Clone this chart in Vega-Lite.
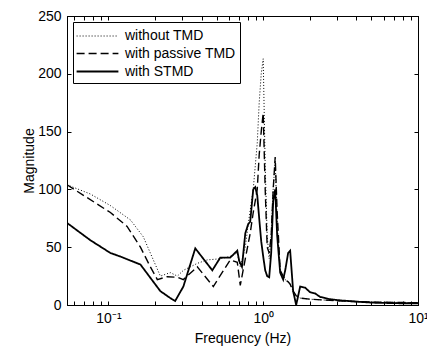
{
  "$schema": "https://vega.github.io/schema/vega-lite/v6.json",
  "width": 351,
  "height": 289,
  "autosize": "none",
  "padding": {"left": 67, "top": 16, "right": 9, "bottom": 44},
  "background": "white",
  "config": {
    "view": {"stroke": "black", "strokeWidth": 1},
    "axis": {
      "labelFont": "Liberation Sans", "titleFont": "Liberation Sans",
      "labelFontSize": 14, "titleFontSize": 14, "titleFontWeight": "normal",
      "labelColor": "black", "titleColor": "black", "domainColor": "black", "tickColor": "black",
      "grid": false, "tickSize": -4, "labelPadding": 10, "labelFlush": false, "labelOverlap": false
    },
    "legend": {
      "labelFont": "Liberation Sans", "labelFontSize": 14, "labelColor": "black",
      "strokeColor": "black", "fillColor": "white", "padding": 4, "cornerRadius": 0,
      "symbolType": "M-2.2,0H2.2", "symbolSize": 361, "symbolStrokeColor": "black",
      "symbolOffset": 10, "rowPadding": 0, "labelOffset": 17
    }
  },
  "data": {"values": [
    {"f": 0.054, "m": 104, "s": "without TMD"},
    {"f": 0.0765, "m": 96, "s": "without TMD"},
    {"f": 0.103, "m": 86, "s": "without TMD"},
    {"f": 0.139, "m": 73.5, "s": "without TMD"},
    {"f": 0.168, "m": 59, "s": "without TMD"},
    {"f": 0.195, "m": 39, "s": "without TMD"},
    {"f": 0.2165, "m": 25, "s": "without TMD"},
    {"f": 0.251, "m": 28, "s": "without TMD"},
    {"f": 0.279, "m": 25, "s": "without TMD"},
    {"f": 0.305, "m": 30, "s": "without TMD"},
    {"f": 0.375, "m": 36, "s": "without TMD"},
    {"f": 0.435, "m": 39, "s": "without TMD"},
    {"f": 0.528, "m": 40, "s": "without TMD"},
    {"f": 0.612, "m": 42, "s": "without TMD"},
    {"f": 0.68, "m": 45, "s": "without TMD"},
    {"f": 0.711, "m": 33, "s": "without TMD"},
    {"f": 0.766, "m": 50, "s": "without TMD"},
    {"f": 0.8, "m": 70, "s": "without TMD"},
    {"f": 0.862, "m": 100, "s": "without TMD"},
    {"f": 0.915, "m": 140, "s": "without TMD"},
    {"f": 0.942, "m": 175, "s": "without TMD"},
    {"f": 0.971, "m": 200, "s": "without TMD"},
    {"f": 1.0, "m": 213, "s": "without TMD"},
    {"f": 1.03, "m": 120, "s": "without TMD"},
    {"f": 1.061, "m": 60, "s": "without TMD"},
    {"f": 1.093, "m": 40, "s": "without TMD"},
    {"f": 1.126, "m": 60, "s": "without TMD"},
    {"f": 1.16, "m": 100, "s": "without TMD"},
    {"f": 1.195, "m": 125, "s": "without TMD"},
    {"f": 1.231, "m": 70, "s": "without TMD"},
    {"f": 1.287, "m": 30, "s": "without TMD"},
    {"f": 1.346, "m": 25, "s": "without TMD"},
    {"f": 1.387, "m": 22, "s": "without TMD"},
    {"f": 1.449, "m": 20, "s": "without TMD"},
    {"f": 1.493, "m": 18, "s": "without TMD"},
    {"f": 1.561, "m": 12, "s": "without TMD"},
    {"f": 1.633, "m": 8, "s": "without TMD"},
    {"f": 1.733, "m": 6, "s": "without TMD"},
    {"f": 2.01, "m": 5, "s": "without TMD"},
    {"f": 2.7, "m": 4, "s": "without TMD"},
    {"f": 3.92, "m": 3, "s": "without TMD"},
    {"f": 5.13, "m": 2.5, "s": "without TMD"},
    {"f": 10, "m": 2, "s": "without TMD"},

    {"f": 0.054, "m": 104, "s": "with passive TMD"},
    {"f": 0.103, "m": 80, "s": "with passive TMD"},
    {"f": 0.132, "m": 68, "s": "with passive TMD"},
    {"f": 0.161, "m": 50, "s": "with passive TMD"},
    {"f": 0.1866, "m": 33, "s": "with passive TMD"},
    {"f": 0.207, "m": 22, "s": "with passive TMD"},
    {"f": 0.24, "m": 24.5, "s": "with passive TMD"},
    {"f": 0.279, "m": 24, "s": "with passive TMD"},
    {"f": 0.305, "m": 22, "s": "with passive TMD"},
    {"f": 0.375, "m": 33, "s": "with passive TMD"},
    {"f": 0.476, "m": 16, "s": "with passive TMD"},
    {"f": 0.612, "m": 39, "s": "with passive TMD"},
    {"f": 0.68, "m": 37, "s": "with passive TMD"},
    {"f": 0.711, "m": 17, "s": "with passive TMD"},
    {"f": 0.766, "m": 40, "s": "with passive TMD"},
    {"f": 0.824, "m": 62, "s": "with passive TMD"},
    {"f": 0.862, "m": 80, "s": "with passive TMD"},
    {"f": 0.915, "m": 100, "s": "with passive TMD"},
    {"f": 0.942, "m": 130, "s": "with passive TMD"},
    {"f": 0.971, "m": 150, "s": "with passive TMD"},
    {"f": 1.0, "m": 166, "s": "with passive TMD"},
    {"f": 1.03, "m": 100, "s": "with passive TMD"},
    {"f": 1.061, "m": 50, "s": "with passive TMD"},
    {"f": 1.093, "m": 45, "s": "with passive TMD"},
    {"f": 1.126, "m": 60, "s": "with passive TMD"},
    {"f": 1.16, "m": 100, "s": "with passive TMD"},
    {"f": 1.195, "m": 128, "s": "with passive TMD"},
    {"f": 1.231, "m": 80, "s": "with passive TMD"},
    {"f": 1.287, "m": 30, "s": "with passive TMD"},
    {"f": 1.346, "m": 25, "s": "with passive TMD"},
    {"f": 1.387, "m": 22, "s": "with passive TMD"},
    {"f": 1.449, "m": 20, "s": "with passive TMD"},
    {"f": 1.493, "m": 18, "s": "with passive TMD"},
    {"f": 1.561, "m": 12, "s": "with passive TMD"},
    {"f": 1.633, "m": 8, "s": "with passive TMD"},
    {"f": 1.733, "m": 6, "s": "with passive TMD"},
    {"f": 2.01, "m": 5, "s": "with passive TMD"},
    {"f": 2.7, "m": 4, "s": "with passive TMD"},
    {"f": 3.92, "m": 3, "s": "with passive TMD"},
    {"f": 5.13, "m": 2.5, "s": "with passive TMD"},
    {"f": 10, "m": 2, "s": "with passive TMD"},

    {"f": 0.054, "m": 71, "s": "with STMD"},
    {"f": 0.0765, "m": 56, "s": "with STMD"},
    {"f": 0.103, "m": 45, "s": "with STMD"},
    {"f": 0.119, "m": 42, "s": "with STMD"},
    {"f": 0.161, "m": 35, "s": "with STMD"},
    {"f": 0.2165, "m": 12, "s": "with STMD"},
    {"f": 0.251, "m": 6, "s": "with STMD"},
    {"f": 0.27, "m": 3.5, "s": "with STMD"},
    {"f": 0.305, "m": 16, "s": "with STMD"},
    {"f": 0.364, "m": 49, "s": "with STMD"},
    {"f": 0.469, "m": 30, "s": "with STMD"},
    {"f": 0.528, "m": 41, "s": "with STMD"},
    {"f": 0.612, "m": 41, "s": "with STMD"},
    {"f": 0.68, "m": 47, "s": "with STMD"},
    {"f": 0.7, "m": 38, "s": "with STMD"},
    {"f": 0.729, "m": 33, "s": "with STMD"},
    {"f": 0.766, "m": 62, "s": "with STMD"},
    {"f": 0.8, "m": 70, "s": "with STMD"},
    {"f": 0.824, "m": 72, "s": "with STMD"},
    {"f": 0.862, "m": 100, "s": "with STMD"},
    {"f": 0.888, "m": 102, "s": "with STMD"},
    {"f": 0.915, "m": 95, "s": "with STMD"},
    {"f": 0.942, "m": 75, "s": "with STMD"},
    {"f": 0.971, "m": 55, "s": "with STMD"},
    {"f": 1.0, "m": 42, "s": "with STMD"},
    {"f": 1.03, "m": 30, "s": "with STMD"},
    {"f": 1.061, "m": 25, "s": "with STMD"},
    {"f": 1.093, "m": 24, "s": "with STMD"},
    {"f": 1.126, "m": 45, "s": "with STMD"},
    {"f": 1.16, "m": 90, "s": "with STMD"},
    {"f": 1.195, "m": 100, "s": "with STMD"},
    {"f": 1.231, "m": 60, "s": "with STMD"},
    {"f": 1.287, "m": 28, "s": "with STMD"},
    {"f": 1.346, "m": 22, "s": "with STMD"},
    {"f": 1.387, "m": 30, "s": "with STMD"},
    {"f": 1.449, "m": 45, "s": "with STMD"},
    {"f": 1.493, "m": 47, "s": "with STMD"},
    {"f": 1.561, "m": 12, "s": "with STMD"},
    {"f": 1.633, "m": 0, "s": "with STMD"},
    {"f": 1.733, "m": 16, "s": "with STMD"},
    {"f": 1.866, "m": 15, "s": "with STMD"},
    {"f": 2.01, "m": 11, "s": "with STMD"},
    {"f": 2.165, "m": 10, "s": "with STMD"},
    {"f": 2.33, "m": 7, "s": "with STMD"},
    {"f": 2.7, "m": 5, "s": "with STMD"},
    {"f": 3.14, "m": 4, "s": "with STMD"},
    {"f": 3.92, "m": 3, "s": "with STMD"},
    {"f": 5.13, "m": 2, "s": "with STMD"},
    {"f": 7.65, "m": 1.5, "s": "with STMD"},
    {"f": 10, "m": 1.5, "s": "with STMD"}
  ]},
  "layer": [
    {
      "mark": {"type": "line", "color": "black", "clip": true},
      "encoding": {
        "x": {"field": "f", "type": "quantitative",
          "scale": {"type": "log", "domain": [0.054, 10], "nice": false},
          "axis": {"title": "Frequency (Hz)", "titlePadding": 6,
            "values": [0.06, 0.07, 0.08, 0.09, 0.1, 0.2, 0.3, 0.4, 0.5, 0.6, 0.7, 0.8, 0.9, 1, 2, 3, 4, 5, 6, 7, 8, 9, 10],
            "labelExpr": "datum.value == 0.1 ? '10⁻¹' : datum.value == 1 ? '10⁰' : datum.value == 10 ? '10¹' : ''"}},
        "y": {"field": "m", "type": "quantitative",
          "scale": {"domain": [0, 250], "nice": false},
          "axis": {"title": "Magnitude", "values": [0, 50, 100, 150, 200, 250], "titlePadding": 1}},
        "strokeDash": {"field": "s", "type": "nominal",
          "scale": {"domain": ["without TMD", "with passive TMD", "with STMD"], "range": [[1, 2], [8, 4], [1, 0]]},
          "legend": {"title": null, "orient": "none", "legendX": 6, "legendY": 6}},
        "strokeWidth": {"field": "s", "type": "nominal",
          "scale": {"domain": ["without TMD", "with passive TMD", "with STMD"], "range": [1, 1.8, 4.5]},
          "legend": {"title": null, "orient": "none", "legendX": 6, "legendY": 6}}
      }
    },
    {
      "mark": {"type": "line", "opacity": 0},
      "encoding": {
        "x": {"field": "f", "type": "quantitative",
          "axis": {"orient": "top", "title": null, "labels": false,
            "values": [0.06, 0.07, 0.08, 0.09, 0.1, 0.2, 0.3, 0.4, 0.5, 0.6, 0.7, 0.8, 0.9, 1, 2, 3, 4, 5, 6, 7, 8, 9, 10]}},
        "y": {"field": "m", "type": "quantitative",
          "axis": {"orient": "right", "title": null, "labels": false, "values": [0, 50, 100, 150, 200, 250]}},
        "detail": {"field": "s", "type": "nominal"}
      }
    }
  ],
  "resolve": {"axis": {"x": "independent", "y": "independent"}}
}
